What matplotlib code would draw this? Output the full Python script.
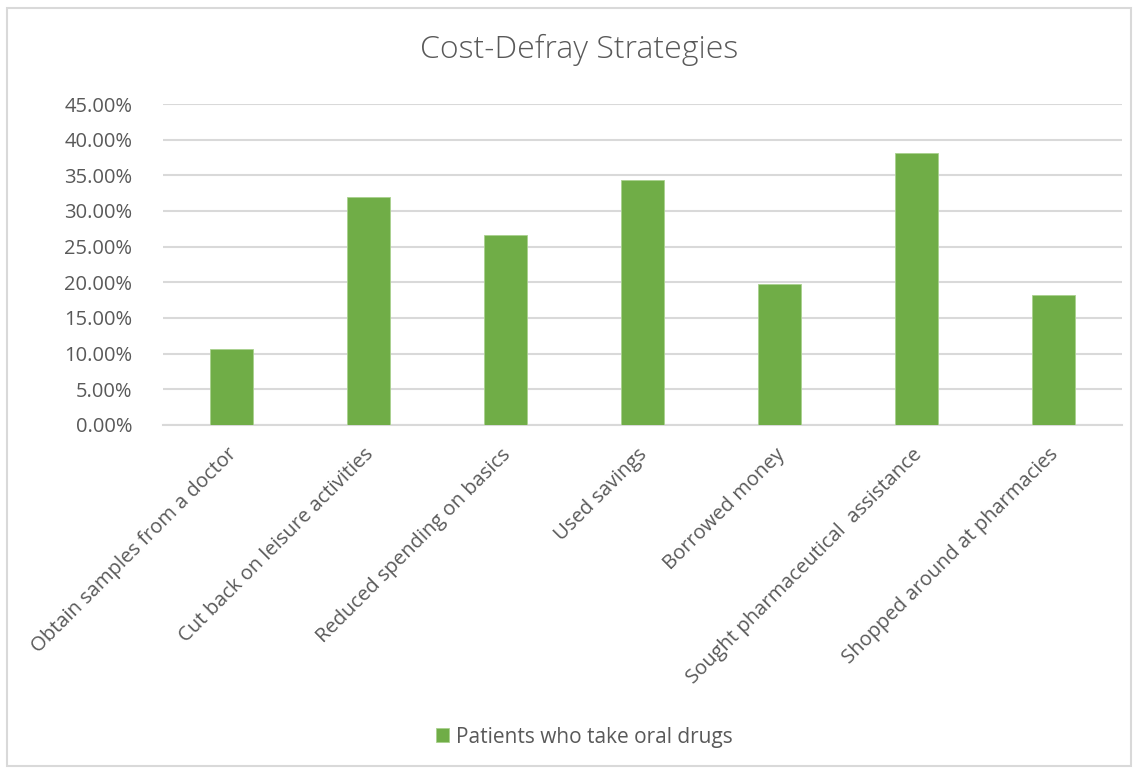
import matplotlib.pyplot as plt
from matplotlib.patches import Rectangle
from matplotlib.ticker import PercentFormatter, MultipleLocator
import matplotlib.transforms as mtransforms

# data
categories = ["Obtain samples from a doctor", "Cut back on leisure activities",
              "Reduced spending on basics", "Used savings", "Borrowed money",
              "Sought pharmaceutical  assistance", "Shopped around at pharmacies"]
oral_drugs = [10.6, 32.0, 26.6, 34.3, 19.8, 38.1, 18.2]

green = "#70AD47"
grey_txt = "#595959"
grid_col = "#D9D9D9"

plt.rcParams['font.family'] = ['Open Sans', 'DejaVu Sans']

fig = plt.figure(figsize=(11.4, 7.72), dpi=100)
ax = fig.add_axes([163 / 1140, 1 - 425 / 772, (1122 - 163) / 1140, (425 - 104) / 772])

x = range(len(categories))
ax.bar(x, oral_drugs, width=0.31, color=green, edgecolor="#A9D18E", linewidth=0.6,
       label="Patients who take oral drugs", zorder=3)

ax.set_xlim(-0.5, len(categories) - 0.5)
ax.set_ylim(0, 45)
ax.yaxis.set_major_locator(MultipleLocator(5))
ax.yaxis.set_major_formatter(PercentFormatter(decimals=2))
ax.grid(axis="y", color=grid_col, linewidth=1.5, zorder=0)
for s in ["top", "right", "left"]:
    ax.spines[s].set_visible(False)
ax.spines["bottom"].set_color(grid_col)
ax.spines["bottom"].set_linewidth(1.5)
ax.tick_params(axis="both", length=0, colors=grey_txt, labelsize=14.5)
ax.tick_params(axis="y", pad=22)
ax.tick_params(axis="x", pad=14)

ax.set_xticks(list(x))
ax.set_xticklabels(categories, rotation=45, ha="right", rotation_mode="anchor")
shift = mtransforms.ScaledTranslation(-5 / 100, 0, fig.dpi_scale_trans)
for lbl in ax.get_xticklabels():
    lbl.set_transform(lbl.get_transform() + shift)

fig.text(579 / 1140, 1 - 50 / 772, "Cost-Defray Strategies", ha="center", va="center",
         fontsize=23, color=grey_txt, fontweight="light")

fig.legend(loc="center", bbox_to_anchor=(584 / 1140, 1 - 737 / 772), frameon=False,
           fontsize=15, labelcolor=grey_txt, handlelength=0.65, handleheight=0.65,
           handletextpad=0.3)

# chart border
fig.patches.append(Rectangle((7 / 1140, 6 / 772), 1124 / 1140, 758 / 772, fill=False,
                             edgecolor=grid_col, linewidth=1.5, transform=fig.transFigure))

fig.savefig("out.png", dpi=100)
